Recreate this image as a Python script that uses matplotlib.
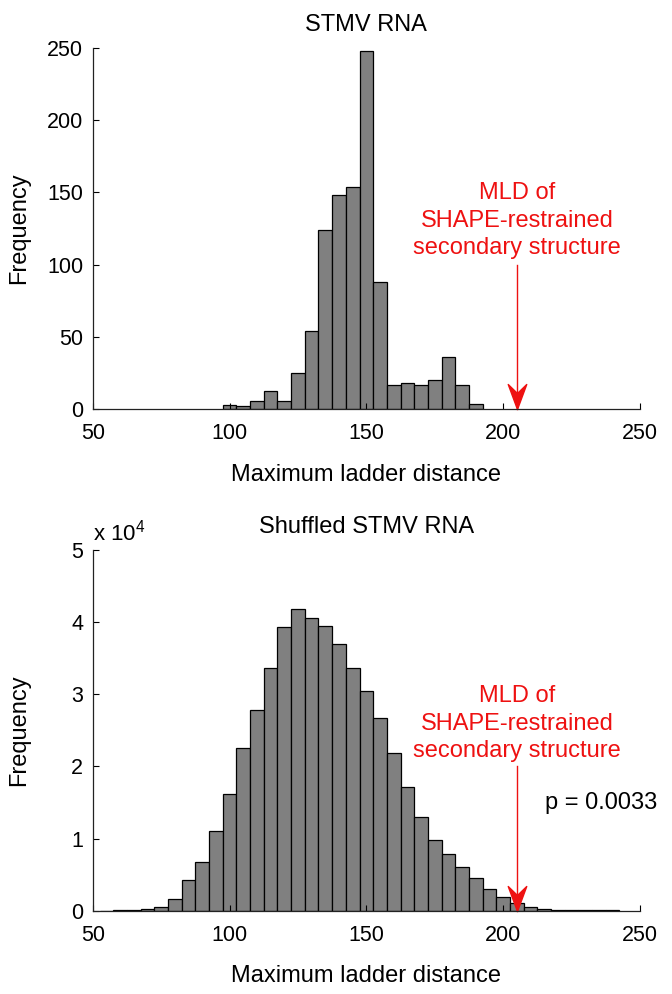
import numpy as np
import matplotlib
matplotlib.use("Agg")
import matplotlib.pyplot as plt
from matplotlib.path import Path
from matplotlib.ticker import FuncFormatter

plt.rcParams['font.family'] = ['Liberation Sans', 'DejaVu Sans']

# bin centres (width 5) and counts
stmv_centers = np.arange(100, 195, 5)
stmv_counts = [3, 2, 6, 13, 6, 25, 54, 124, 148, 154, 248, 88, 17, 18, 17, 20, 36, 17, 4]

shuf_centers = np.arange(55, 245, 5)
shuf_counts = [20, 40, 80, 240, 550, 1600, 4200, 6700, 11000, 16200, 22500, 27800,
               33600, 39300, 41800, 40600, 39500, 36900, 33700, 30500, 26700, 21800,
               17100, 13000, 9800, 7800, 6100, 4600, 3000, 1900, 1000, 500, 300,
               150, 120, 60, 50, 40]

mld = 205
p_text = "p = 0.0033"
note = "MLD of\nSHAPE-restrained\nsecondary structure"

# arrow head shape (tip at origin), concave back
head = Path([(0, 0), (-0.37, 1), (0, 0.64), (0.37, 1), (0, 0)],
            [Path.MOVETO, Path.LINETO, Path.LINETO, Path.LINETO, Path.CLOSEPOLY])

fig = plt.figure(figsize=(6.72, 9.94), dpi=100)
ax1 = fig.add_axes([0.138, 0.5882, 0.8144, 0.3637])
ax2 = fig.add_axes([0.138, 0.0838, 0.8144, 0.3629])


def style(ax):
    ax.set_xlim(50, 250)
    ax.set_xticks([50, 100, 150, 200, 250])
    for s in ['top', 'right']:
        ax.spines[s].set_visible(False)
    for s in ['left', 'bottom']:
        ax.spines[s].set_linewidth(0.9)
        ax.spines[s].set_color('#222222')
    ax.tick_params(direction='in', length=4, width=0.8, labelsize=15.5, pad=7)
    ax.tick_params(axis='x', pad=10)
    ax.set_xlabel("Maximum ladder distance", fontsize=17, labelpad=14)
    ax.set_ylabel("Frequency", fontsize=17)
    ax.yaxis.set_label_coords(-0.115, 0.5)


# top: STMV RNA
ax1.bar(stmv_centers, stmv_counts, width=5, color='#808080', edgecolor='black', linewidth=0.9)
style(ax1)
ax1.set_ylim(0, 250)
ax1.set_yticks([0, 50, 100, 150, 200, 250])
ax1.set_title("STMV RNA", fontsize=17, pad=12)
ax1.plot([mld, mld], [100, 0], color='#ee1111', lw=1, clip_on=False)
ax1.plot([mld], [0], marker=head, markersize=36, color='#ee1111', mec='#ee1111', clip_on=False)
ax1.text(mld, 130.4, note, color='#ee1111', fontsize=17, ha='center', va='center', linespacing=1.33)

# bottom: shuffled
ax2.bar(shuf_centers, shuf_counts, width=5, color='#808080', edgecolor='black', linewidth=0.9)
style(ax2)
ax2.set_ylim(0, 50000)
ax2.set_yticks(np.arange(0, 50001, 10000))
ax2.yaxis.set_major_formatter(FuncFormatter(lambda v, pos: "%d" % round(v / 1e4)))
ax2.set_title("Shuffled STMV RNA", fontsize=17, pad=12)
ax2.text(0, 1.012, r"x 10$^{\mathregular{4}}$", transform=ax2.transAxes, fontsize=16,
         ha='left', va='bottom')
ax2.plot([mld, mld], [20000, 0], color='#ee1111', lw=1, clip_on=False)
ax2.plot([mld], [0], marker=head, markersize=36, color='#ee1111', mec='#ee1111', clip_on=False)
ax2.text(mld, 25900, note, color='#ee1111', fontsize=17, ha='center', va='center', linespacing=1.33)
ax2.text(215.3, 14900, p_text, fontsize=17, ha='left', va='center')

fig.savefig("out.png", dpi=100)
